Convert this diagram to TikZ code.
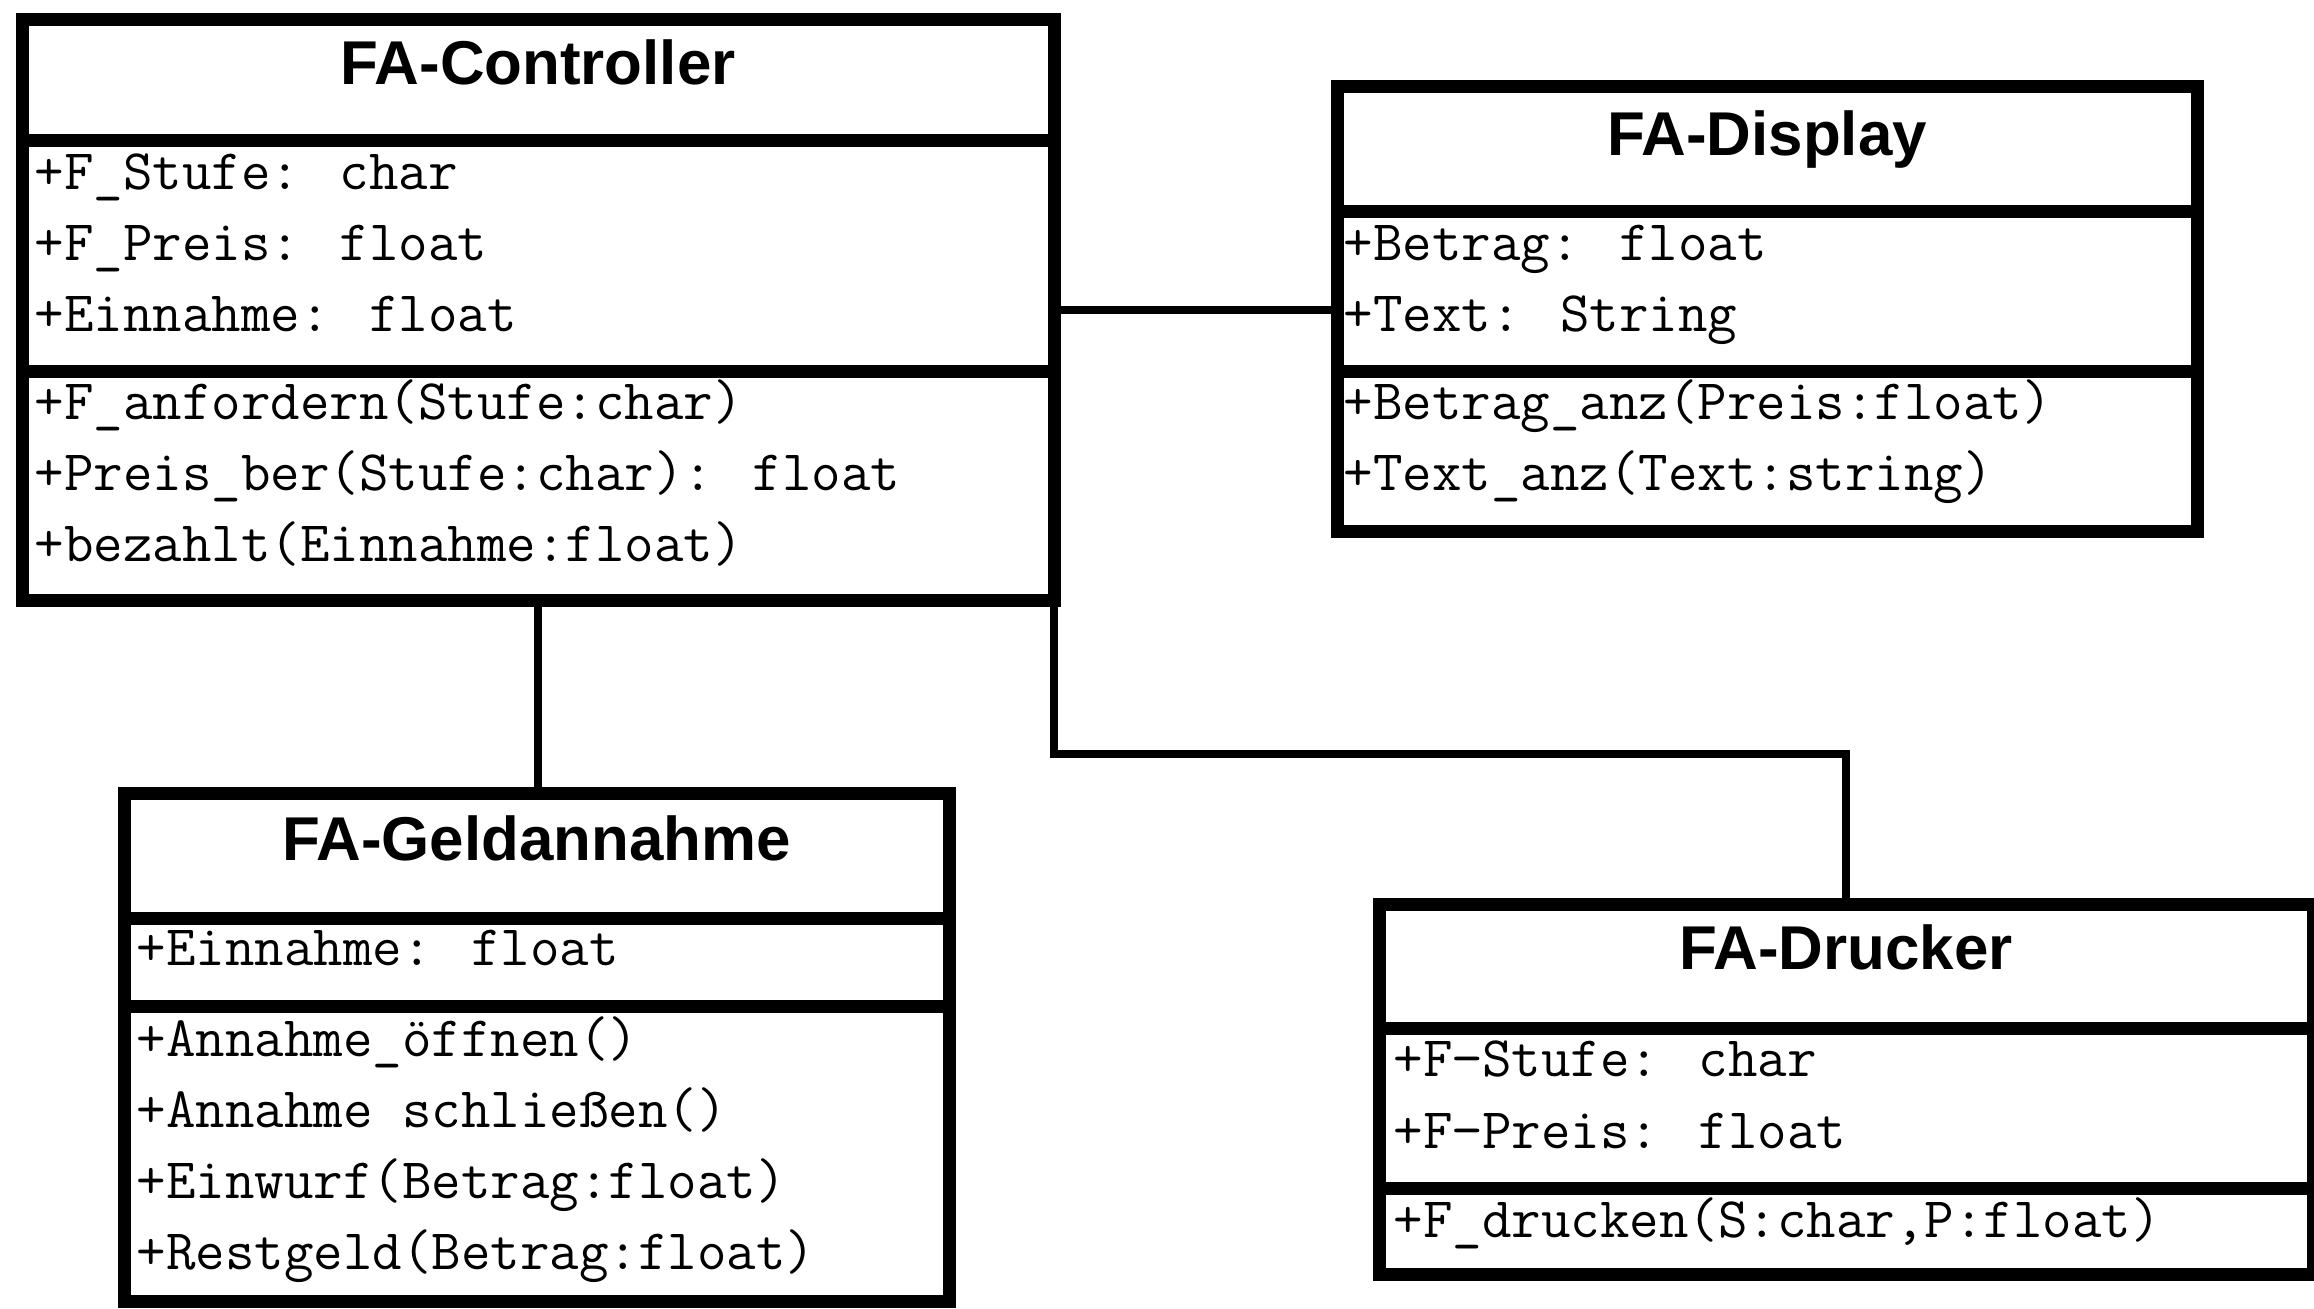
\documentclass[tikz,border=0pt]{standalone}
\usepackage{fontspec}
\newfontfamily\titlef{Liberation Sans}
\tikzset{
  classbox/.style={draw=black, line width=1.3mm, line join=miter, outer sep=0pt, inner sep=0pt},
  sepline/.style={line width=1.3mm},
  conn/.style={line width=0.8mm, line join=miter},
  member/.style={anchor=base west, inner sep=0pt, font=\ttfamily\fontsize{16.3pt}{18pt}\selectfont},
  classtitle/.style={anchor=base, inner sep=0pt, font=\titlef\bfseries\fontsize{17.6pt}{20pt}\selectfont},
}
\begin{document}
\begin{tikzpicture}[x=0.1mm,y=-0.1mm]
\useasboundingbox (0,0) rectangle (2314,1308);
% class boxes
\node[classbox, minimum width=103.2mm, minimum height=58.1mm] (ctrl) at (538,309.5) {};
\node[classbox, minimum width=86mm, minimum height=44.5mm] (disp) at (1767,308.5) {};
\node[classbox, minimum width=82.5mm, minimum height=50.8mm] (geld) at (536.5,1047) {};
\node[classbox, minimum width=93.4mm, minimum height=37mm] (druck) at (1846,1089) {};
% separators
\draw[sepline] (22,140) -- (1054,140);
\draw[sepline] (22,371) -- (1054,371);
\draw[sepline] (1337,211) -- (2197,211);
\draw[sepline] (1337,371) -- (2197,371);
\draw[sepline] (124,918) -- (949,918);
\draw[sepline] (124,1006) -- (949,1006);
\draw[sepline] (1379,1028) -- (2313,1028);
\draw[sepline] (1379,1188) -- (2313,1188);
% connectors
\coordinate (bend) at (1846,754);
\draw[conn] (ctrl.east) -- (ctrl.east -| disp.west);
\draw[conn] (ctrl.south) -- (ctrl.south |- geld.north);
\draw[conn] (ctrl.south east) |- (bend) -- (druck.north);
% titles
\node[classtitle] (ctrl-t) at (538,84) {FA-Controller};
\node[classtitle] (disp-t) at (1767,155) {FA-Display};
\node[classtitle] (geld-t) at (536.5,860) {FA-Geldannahme};
\node[classtitle] (druck-t) at (1846,969) {FA-Drucker};
% FA-Controller members
\node[member] (c1) at (34,189) {+F\_Stufe: char};
\node[member] (c2) at (34,260) {+F\_Preis: float};
\node[member] (c3) at (34,331) {+Einnahme: float};
\node[member] (c4) at (34,419) {+F\_anfordern(Stufe:char)};
\node[member] (c5) at (34,490) {+Preis\_ber(Stufe:char): float};
\node[member] (c6) at (34,561) {+bezahlt(Einnahme:float)};
% FA-Display members
\node[member] (d1) at (1343,260) {+Betrag: float};
\node[member] (d2) at (1343,331) {+Text: String};
\node[member] (d3) at (1343,419) {+Betrag\_anz(Preis:float)};
\node[member] (d4) at (1343,490) {+Text\_anz(Text:string)};
% FA-Geldannahme members
\node[member] (g1) at (136,965) {+Einnahme: float};
\node[member] (g2) at (136,1056) {+Annahme\_öffnen()};
\node[member] (g3) at (136,1127) {+Annahme schließen()};
\node[member] (g4) at (136,1198) {+Einwurf(Betrag:float)};
\node[member] (g5) at (136,1269) {+Restgeld(Betrag:float)};
% FA-Drucker members
\node[member] (p1) at (1393,1076) {+F−Stufe: char};
\node[member] (p2) at (1393,1148) {+F−Preis: float};
\node[member] (p3) at (1393,1237) {+F\_drucken(S:char,P:float)};
\end{tikzpicture}
\end{document}
